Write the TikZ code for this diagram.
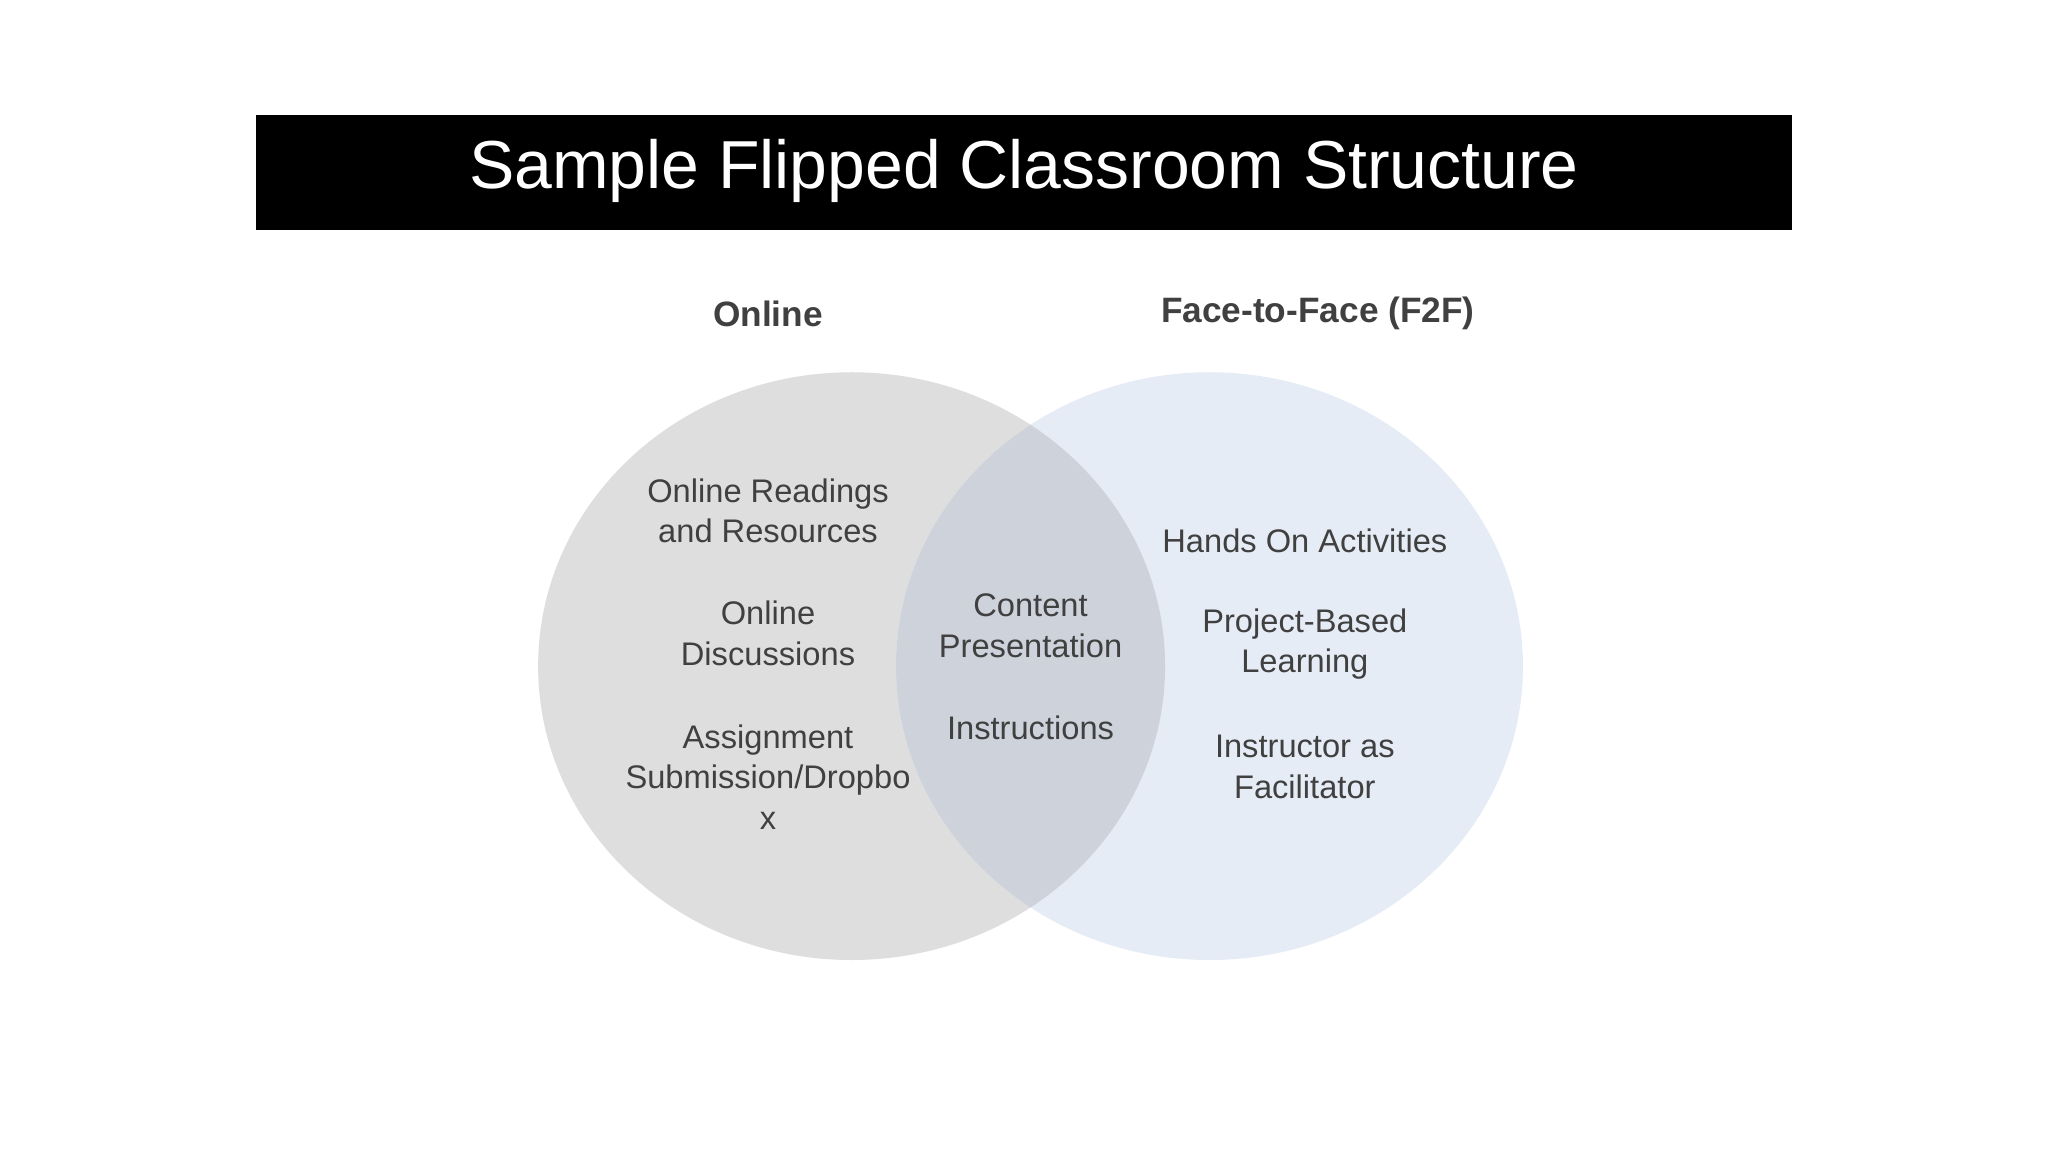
\documentclass[tikz,border=0pt]{standalone}
\usepackage{fontspec}
\setmainfont{Liberation Sans}
\begin{document}
\begin{tikzpicture}[x=0.5pt,y=-0.5pt,
  txt/.style={text=black!75,font=\fontsize{12.5}{15.5}\selectfont,align=center},
  hdr/.style={text=black!75,font=\bfseries\fontsize{13.5}{16}\selectfont,align=center}]
\useasboundingbox (0,0) rectangle (1568,882);
\fill[white] (0,0) rectangle (1568,882);
\fill[black] (196,88) rectangle (1372,176);
\node[text=white,font=\fontsize{26}{30}\selectfont] (title) at (784,131) {Sample Flipped Classroom Structure};
\fill[fill={rgb,255:red,222;green,222;blue,222}] (652,510) ellipse [x radius=240,y radius=225];
\fill[fill={rgb,255:red,230;green,236;blue,245}] (926,510) ellipse [x radius=240,y radius=225];
\begin{scope}
\clip (652,510) ellipse [x radius=240,y radius=225];
\fill[fill={rgb,255:red,205;green,210;blue,219}] (926,510) ellipse [x radius=240,y radius=225];
\end{scope}
\node[hdr] (h1) at (588,240) {Online};
\node[hdr] (h2) at (1009,240) {Face-to-Face (F2F)};
\node[txt] (a) at (588,391) {Online Readings\\and Resources};
\node[txt] (b) at (588,485) {Online\\Discussions};
\node[txt] (c) at (588,595) {Assignment\\Submission/Dropbo\\x};
\node[txt] (d) at (789,479) {Content\\Presentation};
\node[txt] (e) at (789,557) {Instructions};
\node[txt] (f) at (999,414) {Hands On Activities};
\node[txt] (g) at (999,493) {Project-Based\\Learning};
\node[txt] (h) at (999,587) {Instructor as\\Facilitator};
\end{tikzpicture}
\end{document}
